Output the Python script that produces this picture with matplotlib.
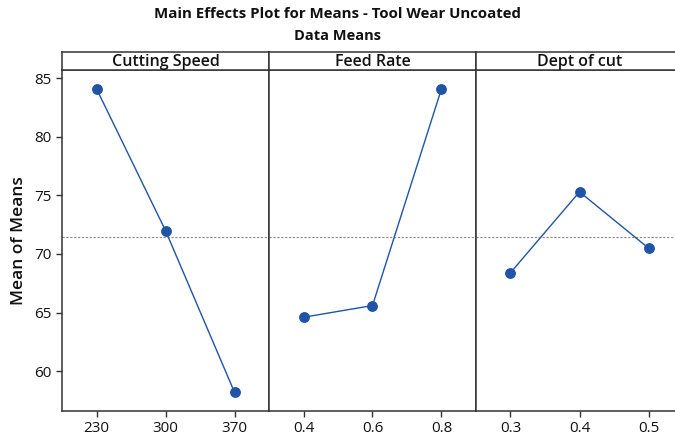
import matplotlib.pyplot as plt

plt.rcParams['font.family'] = ['Open Sans', 'DejaVu Sans']

factors = ["Cutting Speed", "Feed Rate", "Dept of cut"]
levels = [["230", "300", "370"], ["0.4", "0.6", "0.8"], ["0.3", "0.4", "0.5"]]
means = [[84.1, 72.0, 58.2], [64.6, 65.6, 84.1], [68.4, 75.3, 70.5]]
grand_mean = 71.43

LINE_COLOR = "#1f54a6"
EDGE = "#333333"
TEXT = "#111111"

fig = plt.figure(figsize=(6.75, 4.4), dpi=100)
left = 62 / 675
width = 207 / 675
bottom = 29 / 440
height = 341 / 440
head_h = 18 / 440

for i, name in enumerate(factors):
    ax = fig.add_axes([left + i * width, bottom, width, height])
    x = range(1, len(levels[i]) + 1)
    ax.axhline(grand_mean, color="#888888", lw=0.8, ls=(0, (2, 1.5)), zorder=1)
    ax.plot(x, means[i], color=LINE_COLOR, lw=1, marker="o", ms=6.8, zorder=3)
    ax.set_xlim(0.5, 3.5)
    ax.set_ylim(56.6, 85.7)
    ax.set_xticks(list(x))
    ax.set_xticklabels(levels[i], fontsize=11)
    ax.set_yticks([60, 65, 70, 75, 80, 85])
    for s in ax.spines.values():
        s.set_color(EDGE)
        s.set_linewidth(1.1)
    ax.tick_params(color=EDGE, length=4, width=1, labelcolor=TEXT)
    if i == 0:
        ax.tick_params(axis="y", labelsize=11)
        ax.set_ylabel("Mean of Means", fontsize=12.5, labelpad=5, color=TEXT,
                      fontweight="semibold")
    else:
        ax.tick_params(axis="y", left=False, labelleft=False)

    hx = fig.add_axes([left + i * width, bottom + height, width, head_h])
    hx.set_xticks([])
    hx.set_yticks([])
    for s in hx.spines.values():
        s.set_color(EDGE)
        s.set_linewidth(1.1)
    hx.text(0.5, 0.45, name, ha="center", va="center", fontsize=11.5,
            color=TEXT, transform=hx.transAxes, fontweight="semibold")

fig.text(0.5, 1 - 14 / 440, "Main Effects Plot for Means - Tool Wear Uncoated",
         ha="center", va="center", fontsize=10.8, fontweight="bold", color=TEXT)
fig.text(0.5, 1 - 36 / 440, "Data Means", ha="center", va="center",
         fontsize=10.5, fontweight="bold", color=TEXT)

fig.savefig("out.png", dpi=100)
